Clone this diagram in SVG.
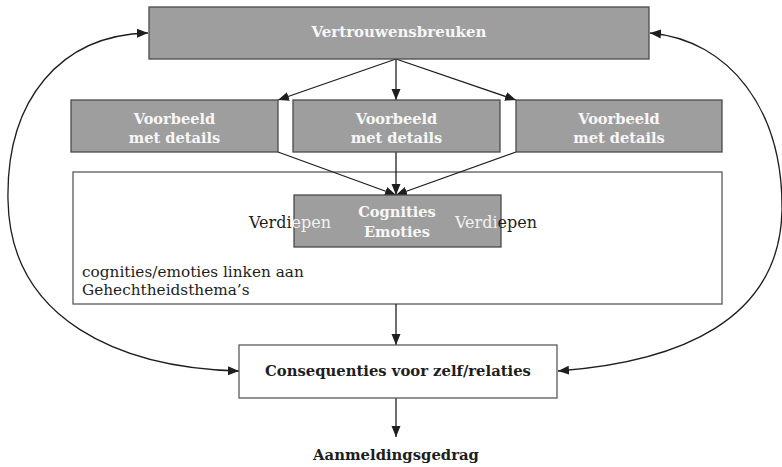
<svg xmlns="http://www.w3.org/2000/svg" width="782" height="467" viewBox="0 0 782 467">
<style>
.g{fill:#9e9e9e;stroke:#4a4a4a;stroke-width:1.3}
.w{fill:#fff;stroke:#5a5a5a;stroke-width:1.3}
.bt{font-family:"DejaVu Serif",serif;font-weight:bold;font-size:14.6px;fill:#f7f7f7;text-anchor:middle}
.dt{font-family:"DejaVu Serif",serif;font-weight:bold;font-size:14.8px;fill:#1e1e1e;text-anchor:middle}
.nt{font-family:"DejaVu Serif",serif;font-size:15.3px;fill:#1e1e1e}
.vt{font-family:"DejaVu Serif",serif;font-size:16px;fill:#1e1e1e}
.c{fill:none;stroke:#1e1e1e;stroke-width:1.3}
.d{fill:#1e1e1e}
.l{fill:#f2f2f2}
</style>
<defs>
<marker id="ah" viewBox="0 0 11 10" refX="11" refY="5" markerWidth="11" markerHeight="10" markerUnits="userSpaceOnUse" orient="auto-start-reverse">
<path d="M0,0.5 L11,5 L0,9.5 Z" fill="#1e1e1e"/>
</marker>
</defs>
<g id="verdiepen-box">
<rect class="w" x="73" y="172" width="649" height="132"/>
<text class="nt" x="82" y="277">cognities/emoties linken aan</text>
<text class="nt" x="82" y="295">Gehechtheidsthema’s</text>
</g>
<g id="connectors">
<path class="c" d="M396,59 L278,100" marker-end="url(#ah)"/>
<path class="c" d="M396,59 L396,100" marker-end="url(#ah)"/>
<path class="c" d="M396,59 L516,100" marker-end="url(#ah)"/>
<path class="c" d="M278,152 L396,195" marker-end="url(#ah)"/>
<path class="c" d="M396,152 L396,195" marker-end="url(#ah)"/>
<path class="c" d="M516,152 L396,195" marker-end="url(#ah)"/>
<path class="c" d="M396,304 L396,345" marker-end="url(#ah)"/>
<path class="c" d="M396,398 L396,437" marker-end="url(#ah)"/>
<path class="c" d="M239,371 C120,368 10,320 8,200 C6,100 60,35 148,33" marker-start="url(#ah)" marker-end="url(#ah)"/>
<path class="c" d="M558,371 C680,362 780,320 782,210 C783,110 730,40 650,33" marker-start="url(#ah)" marker-end="url(#ah)"/>
</g>
<g id="vertrouwensbreuken">
<rect class="g" x="149" y="7" width="500" height="52"/>
<text class="bt" x="399" y="37" style="font-size:15px">Vertrouwensbreuken</text>
</g>
<g id="voorbeeld1">
<rect class="g" x="71" y="100" width="207" height="52"/>
<text class="bt" x="174.5" y="124">Voorbeeld</text>
<text class="bt" x="174.5" y="143">met details</text>
</g>
<g id="voorbeeld2">
<rect class="g" x="293" y="100" width="207" height="52"/>
<text class="bt" x="396.5" y="124">Voorbeeld</text>
<text class="bt" x="396.5" y="143">met details</text>
</g>
<g id="voorbeeld3">
<rect class="g" x="516" y="100" width="206" height="52"/>
<text class="bt" x="619" y="124">Voorbeeld</text>
<text class="bt" x="619" y="143">met details</text>
</g>
<g id="cognities">
<rect class="g" x="294" y="195" width="207" height="52"/>
<text class="bt" x="397" y="217">Cognities</text>
<text class="bt" x="397" y="237">Emoties</text>
</g>
<g id="verdiepen-left">
<text class="vt" x="249" y="228"><tspan class="d">Verdi</tspan><tspan class="l">epen</tspan></text>
</g>
<g id="verdiepen-right">
<text class="vt" x="455" y="228"><tspan class="l">Verdi</tspan><tspan class="d">epen</tspan></text>
</g>
<g id="consequenties">
<rect class="w" x="239" y="345" width="318" height="53"/>
<text class="dt" x="398" y="376">Consequenties voor zelf/relaties</text>
</g>
<g id="aanmelding">
<text class="dt" x="396" y="460">Aanmeldingsgedrag</text>
</g>
</svg>
